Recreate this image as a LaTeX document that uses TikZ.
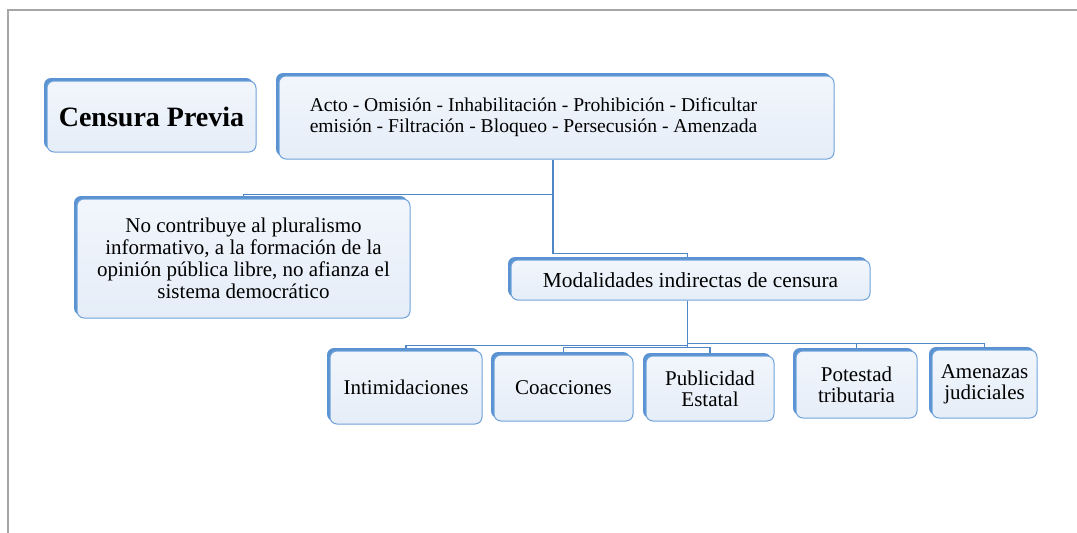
\documentclass[tikz,border=0pt]{standalone}
\usepackage{fontspec}
\setmainfont{Liberation Serif}
\usetikzlibrary{shadows}
\definecolor{boxfillA}{HTML}{F2F6FC}
\definecolor{boxfillB}{HTML}{E5EDF8}
\definecolor{boxline}{HTML}{6FA3DA}
\definecolor{boxshade}{HTML}{5A92D2}
\definecolor{connc}{HTML}{4F86C6}
\definecolor{framec}{HTML}{A6A6A6}
\begin{document}
\begin{tikzpicture}[x=1pt,y=-1pt,
  box/.style={draw=boxline, line width=1pt, rounded corners=7pt,
    top color=boxfillA, bottom color=boxfillB, align=center, inner sep=0pt,
    font=\fontsize{21}{21}\selectfont,
    general shadow={fill=boxshade, shadow xshift=-3pt, shadow yshift=3pt}},
  link/.style={draw=connc, line width=1.2pt}]
\useasboundingbox (0,0) rectangle (1077,533);
\draw[framec, line width=1.5pt] (8,533) -- (8,10) -- (1077,10);

\node[box, minimum width=209pt, minimum height=71pt, font=\fontsize{28}{30}\selectfont\bfseries]
  (cp) at (151.5,116.5) {Censura Previa};
\node[box, minimum width=555pt, minimum height=83pt, font=\fontsize{19.6}{21}\selectfont] (top) at (556.5,117.5)
  {\begin{tabular}{@{}c@{}}Acto - Omisión - Inhabilitación - Prohibición - Dificultar\\emisión - Filtración - Bloqueo - Persecusión - Amenzada\end{tabular}\hspace{46pt}};
\node[box, minimum width=333pt, minimum height=119pt, font=\fontsize{21}{22}\selectfont] (nc) at (243.5,258.5)
  {No contribuye al pluralismo\\informativo, a la formación de la\\opinión pública libre, no afianza el\\sistema democrático};
\node[box, minimum width=359pt, minimum height=40pt, font=\fontsize{21.4}{22}\selectfont] (mod) at (690.5,280)
  {Modalidades indirectas de censura};
\node[box, minimum width=152pt, minimum height=73pt] (int) at (406,387.5) {Intimidaciones};
\node[box, minimum width=139pt, minimum height=66pt] (coa) at (563.5,388) {Coacciones};
\node[box, minimum width=128pt, minimum height=65pt] (pub) at (710,388.5) {Publicidad\\Estatal};
\node[box, minimum width=121pt, minimum height=67pt] (pot) at (856.5,384.5) {Potestad\\tributaria};
\node[box, minimum width=105pt, minimum height=68pt] (ame) at (984.5,384) {Amenazas\\judiciales};

\draw[link] ([xshift=-3.5pt]top.south) -- ++(0,35) -| ([yshift=3pt]nc.north);
\draw[link] ([xshift=-3.5pt]top.south) -- ++(0,94) -| ([yshift=3pt,xshift=-3pt]mod.north);
\draw[link] ([xshift=-3pt]mod.south) -- ++(0,45) -| ([yshift=3pt]int.north);
\draw[link] ([xshift=-3pt]mod.south) -- ++(0,47) -| ([yshift=3pt]coa.north);
\draw[link] ([xshift=-3pt]mod.south) -- ++(0,47) -| ([yshift=3pt]pub.north);
\draw[link] ([xshift=-3pt]mod.south) -- ++(0,43) -| ([yshift=3pt]pot.north);
\draw[link] ([xshift=-3pt]mod.south) -- ++(0,43) -| ([yshift=3pt]ame.north);
\end{tikzpicture}
\end{document}
